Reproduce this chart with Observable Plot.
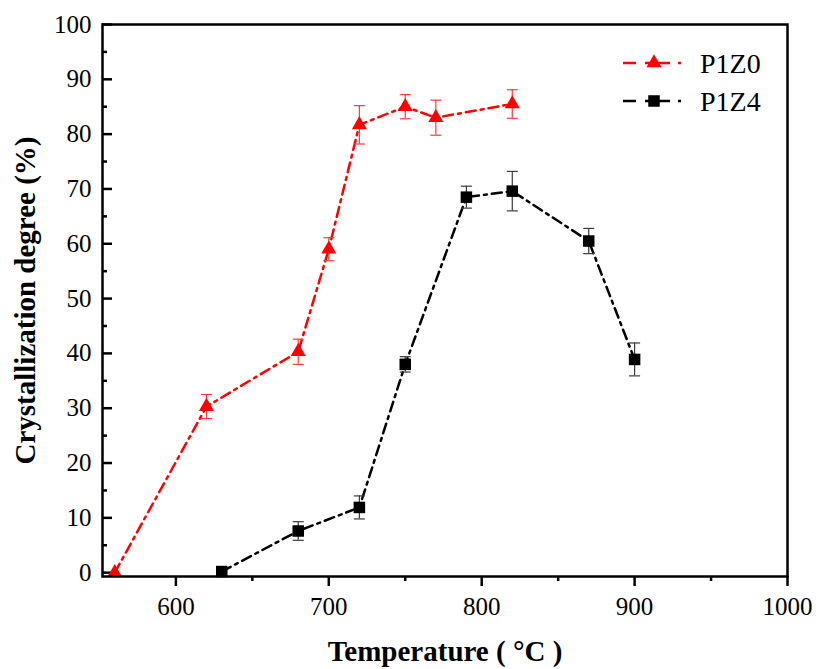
<!DOCTYPE html>
<html><head><meta charset="utf-8">
<script src="https://cdn.jsdelivr.net/npm/d3@7"></script>
<script src="https://cdn.jsdelivr.net/npm/@observablehq/plot@0.6"></script>
<style>body{margin:0;background:#fff} #chart{position:relative;width:816px;height:669px}</style>
</head><body><div id="chart"></div>
<script>
const tempP1Z0 = [560, 620, 680, 700, 720, 750, 770, 820];
const valP1Z0  = [0, 30.3, 40.3, 59, 81.7, 85, 83, 85.5];
const errP1Z0  = [0, 2.2, 2.3, 2.1, 3.5, 2.2, 3.2, 2.6];
const tempP1Z4 = [630, 680, 720, 750, 790, 820, 870, 900];
const valP1Z4  = [0.2, 7.6, 11.9, 38, 68.5, 69.6, 60.5, 38.9];
const errP1Z4  = [0, 1.7, 2.1, 1.4, 2, 3.6, 2.3, 3];
const seriesNames = ["P1Z0", "P1Z4"];
const seriesColors = ["#ff0000", "#000000"];
const errColors = ["#ff3b3b", "#3a3a3a"];
const seriesSymbols = ["triangle", "square"];
const seriesR = [5.6, 6.5];
const xTicks = [600, 700, 800, 900, 1000];
const xMinorTicks = [650, 750, 850, 950];
const yTicks = [0, 10, 20, 30, 40, 50, 60, 70, 80, 90, 100];
const yMinorTicks = [5, 15, 25, 35, 45, 55, 65, 75, 85, 95];
const xTitle = "Temperature ( °C )";
const yTitle = "Crystallization degree (%)";

const FONT = "Liberation Serif, Times New Roman, serif";
const DASH = "10,5,3,5";

const series = [
  {name: seriesNames[0], temps: tempP1Z0, vals: valP1Z0, errs: errP1Z0},
  {name: seriesNames[1], temps: tempP1Z4, vals: valP1Z4, errs: errP1Z4}
].map((s, k) => ({
  ...s, color: seriesColors[k], errColor: errColors[k], symbol: seriesSymbols[k], r: seriesR[k],
  rows: s.temps.map((t, i) => ({t, v: s.vals[i], e: s.errs[i]}))
}));

const capSymbol = {
  draw(context, size) {
    const h = Math.sqrt(size / Math.PI);
    context.moveTo(-h, 0);
    context.lineTo(h, 0);
  }
};

const marks = [];
for (const s of series) {
  marks.push(Plot.line(s.rows, {x: "t", y: "v", stroke: s.color, strokeWidth: 2.5, strokeDasharray: DASH}));
}
for (const s of series) {
  const er = s.rows.filter(d => d.e > 0);
  marks.push(Plot.ruleX(er, {x: "t", y1: d => d.v - d.e, y2: d => d.v + d.e, stroke: s.errColor, strokeWidth: 1.2}));
  marks.push(Plot.dot(er, {x: "t", y: d => d.v - d.e, symbol: capSymbol, r: 5.5, stroke: s.errColor, strokeWidth: 1.2, fill: "none"}));
  marks.push(Plot.dot(er, {x: "t", y: d => d.v + d.e, symbol: capSymbol, r: 5.5, stroke: s.errColor, strokeWidth: 1.2, fill: "none"}));
}
for (const s of series) {
  marks.push(Plot.dot(s.rows, {x: "t", y: "v", symbol: s.symbol, r: s.r, fill: s.color, stroke: "none"}));
}

const chart = Plot.plot({
  width: 816, height: 669,
  marginLeft: 102, marginRight: 29, marginTop: 24, marginBottom: 93,
  style: {fontFamily: FONT, color: "black", background: "white", overflow: "visible"},
  x: {domain: [552, 1000], axis: null},
  y: {domain: [-0.7, 100], axis: null},
  marks: [
    Plot.axisX({ticks: xTicks, tickSize: 10, tickPadding: 11, strokeWidth: 2.5, fontSize: 25, fontFamily: FONT, label: null, tickFormat: d => String(d)}),
    Plot.axisX({ticks: xMinorTicks, tickSize: 5, strokeWidth: 2.5, tickFormat: () => "", label: null}),
    Plot.axisY({ticks: yTicks, tickSize: 0, tickPadding: 11, fontSize: 25, fontFamily: FONT, label: null, tickFormat: d => String(d)}),
    Plot.axisY({ticks: yTicks, tickSize: -10, strokeWidth: 2.5, tickFormat: () => "", label: null}),
    Plot.axisY({ticks: yMinorTicks, tickSize: -5, strokeWidth: 2.5, tickFormat: () => "", label: null}),
    ...marks,
    Plot.frame({stroke: "black", strokeWidth: 2.5}),
    Plot.text([xTitle], {frameAnchor: "bottom", textAnchor: "middle", lineAnchor: "middle", dy: 75, fontSize: 29, fontWeight: "bold", fontFamily: FONT, fill: "black"}),
    Plot.text([yTitle], {frameAnchor: "left", textAnchor: "middle", lineAnchor: "middle", dx: -77, rotate: -90, fontSize: 29, fontWeight: "bold", fontFamily: FONT, fill: "black"})
  ]
});
document.getElementById("chart").appendChild(chart);

const svg = d3.select(chart.tagName.toLowerCase() === "svg" ? chart : chart.querySelector("svg"));
const lg = svg.append("g").attr("transform", "translate(623,63)");
series.forEach((s, k) => {
  const g = lg.append("g").attr("transform", `translate(0,${k * 38})`);
  g.append("line").attr("x1", 0).attr("x2", 59).attr("y1", 0).attr("y2", 0)
    .attr("stroke", s.color).attr("stroke-width", 2.5).attr("stroke-dasharray", "13,9,25,8,3,6");
  const sym = s.symbol === "triangle" ? d3.symbolTriangle : d3.symbolSquare;
  g.append("path").attr("transform", "translate(31,0)")
    .attr("d", d3.symbol(sym, Math.PI * s.r * s.r)()).attr("fill", s.color);
  g.append("text").attr("x", 77).attr("y", 10).attr("font-size", 28)
    .attr("text-anchor", "start")
    .attr("font-family", FONT).attr("fill", "black").text(s.name);
});
</script>
</body></html>
